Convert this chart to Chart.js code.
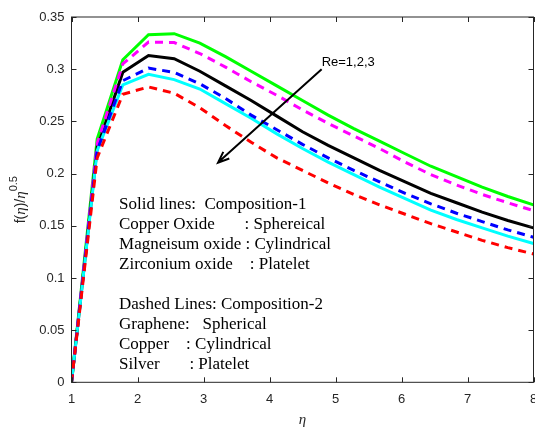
<!DOCTYPE html>
<html>
<head>
<meta charset="utf-8">
<script src="https://cdn.jsdelivr.net/npm/chart.js@4.4.0/dist/chart.umd.min.js"></script>
<style>
  html, body { margin: 0; padding: 0; background: #fff; }
</style>
</head>
<body>
<canvas id="chart" width="535" height="431"></canvas>
<script>
// eta nodes along the x axis
const etaPoints = [1, 1.3889, 1.7778, 2.1667, 2.5556, 2.9444, 3.3333, 3.7222, 4.1111, 4.5,
                   4.8889, 5.2778, 5.6667, 6.0556, 6.4444, 6.8333, 7.2222, 7.6111, 8];

// solid lines (composition 1)
const greenVals = [0, 0.233, 0.309, 0.333, 0.334, 0.325, 0.312, 0.298, 0.284, 0.270,
                   0.256, 0.243, 0.231, 0.219, 0.207, 0.197, 0.187, 0.178, 0.170];
const blackVals = [0, 0.225, 0.297, 0.313, 0.310, 0.298, 0.284, 0.270, 0.255, 0.240,
                   0.227, 0.215, 0.203, 0.192, 0.181, 0.172, 0.163, 0.155, 0.148];
const cyanVals  = [0, 0.222, 0.285, 0.295, 0.290, 0.281, 0.267, 0.253, 0.238, 0.224,
                   0.211, 0.199, 0.187, 0.176, 0.165, 0.156, 0.148, 0.140, 0.133];

// dashed lines (composition 2)
const magentaVals = [0, 0.229, 0.305, 0.326, 0.3255, 0.315, 0.302, 0.288, 0.275, 0.261,
                     0.248, 0.236, 0.224, 0.211, 0.199, 0.189, 0.180, 0.172, 0.1645];
const blueVals    = [0, 0.222, 0.289, 0.301, 0.297, 0.286, 0.272, 0.256, 0.242, 0.228,
                     0.215, 0.203, 0.192, 0.181, 0.171, 0.162, 0.154, 0.146, 0.139];
const redVals     = [0, 0.215, 0.276, 0.283, 0.277, 0.263, 0.246, 0.230, 0.215, 0.203,
                     0.191, 0.180, 0.170, 0.161, 0.152, 0.144, 0.136, 0.129, 0.123];

const xTicks = [1, 2, 3, 4, 5, 6, 7, 8];
const yTicks = [0, 0.05, 0.1, 0.15, 0.2, 0.25, 0.3, 0.35];
const yTickLabels = ['0', '0.05', '0.1', '0.15', '0.2', '0.25', '0.3', '0.35'];

const noteLines = [
  'Solid lines:  Composition-1',
  'Copper Oxide       : Sphereical',
  'Magneisum oxide : Cylindrical',
  'Zirconium oxide    : Platelet',
  '',
  'Dashed Lines: Composition-2',
  'Graphene:   Spherical',
  'Copper    : Cylindrical',
  'Silver       : Platelet'
];
const reLabel = 'Re=1,2,3';

const AXIS = '#262626';

function pts(vals) {
  return vals.map((v, i) => ({ x: etaPoints[i], y: v }));
}

function series(label, vals, color, dashed, order) {
  return {
    label: label,
    data: pts(vals),
    borderColor: color,
    borderWidth: 3,
    borderDash: dashed ? [8, 6] : [],
    pointRadius: 0,
    tension: 0,
    fill: false,
    order: order
  };
}

// frame, inner ticks, annotations and the y label
const decor = {
  id: 'decor',
  afterDraw(chart) {
    const ctx = chart.ctx;
    const a = chart.chartArea;
    const xs = chart.scales.x, ys = chart.scales.y;
    ctx.save();
    ctx.strokeStyle = AXIS;
    ctx.lineWidth = 1;
    ctx.strokeRect(a.left, a.top, a.right - a.left, a.bottom - a.top);
    ctx.beginPath();
    xTicks.forEach(v => {
      const px = Math.round(xs.getPixelForValue(v)) + 0.5;
      ctx.moveTo(px, a.bottom); ctx.lineTo(px, a.bottom - 5);
      ctx.moveTo(px, a.top); ctx.lineTo(px, a.top + 5);
    });
    yTicks.forEach(v => {
      const py = Math.round(ys.getPixelForValue(v)) + 0.5;
      ctx.moveTo(a.left, py); ctx.lineTo(a.left + 5, py);
      ctx.moveTo(a.right, py); ctx.lineTo(a.right - 5, py);
    });
    ctx.stroke();

    // arrow Re=1,2,3
    const x0 = xs.getPixelForValue(4.79), y0 = ys.getPixelForValue(0.300);
    const x1 = xs.getPixelForValue(3.22), y1 = ys.getPixelForValue(0.2105);
    ctx.strokeStyle = '#000';
    ctx.lineWidth = 2;
    ctx.beginPath();
    ctx.moveTo(x0, y0); ctx.lineTo(x1, y1);
    const ang = Math.atan2(y0 - y1, x0 - x1);
    ctx.moveTo(x1 + 12 * Math.cos(ang - 0.38), y1 + 12 * Math.sin(ang - 0.38));
    ctx.lineTo(x1, y1);
    ctx.lineTo(x1 + 12 * Math.cos(ang + 0.38), y1 + 12 * Math.sin(ang + 0.38));
    ctx.stroke();

    ctx.fillStyle = '#000';
    ctx.font = '13px "Liberation Sans", Arial, sans-serif';
    ctx.textBaseline = 'alphabetic';
    ctx.textAlign = 'left';
    ctx.fillText(reLabel, xs.getPixelForValue(4.79), ys.getPixelForValue(0.3035));

    // legend-like note block
    ctx.font = '17px "Liberation Serif", "Times New Roman", serif';
    const tx = xs.getPixelForValue(1.72);
    const ty = ys.getPixelForValue(0.1664);
    noteLines.forEach((t, i) => {
      if (t) ctx.fillText(t, tx, ty + i * 20.1);
    });

    // y axis label f(eta)/eta^0.5
    const parts = [
      { t: 'f(', f: '14px "Liberation Sans", Arial, sans-serif', dy: 0 },
      { t: 'η', f: 'italic 15px "Liberation Serif", serif', dy: 0 },
      { t: ')/', f: '14px "Liberation Sans", Arial, sans-serif', dy: 0 },
      { t: 'η', f: 'italic 15px "Liberation Serif", serif', dy: 0 },
      { t: '0.5', f: '11px "Liberation Sans", Arial, sans-serif', dy: -8 }
    ];
    let total = 0;
    parts.forEach(p => { ctx.font = p.f; p.w = ctx.measureText(p.t).width; total += p.w; });
    ctx.translate(25, (a.top + a.bottom) / 2);
    ctx.rotate(-Math.PI / 2);
    ctx.fillStyle = AXIS;
    let cx = -total / 2;
    parts.forEach(p => {
      ctx.font = p.f;
      ctx.fillText(p.t, cx, p.dy);
      cx += p.w;
    });
    ctx.restore();
  }
};

new Chart(document.getElementById('chart'), {
  type: 'line',
  data: {
    datasets: [
      series('Re=1 (composition 1)', greenVals, '#00ff00', false, 6),
      series('Re=2 (composition 1)', blackVals, '#000000', false, 5),
      series('Re=3 (composition 1)', cyanVals, '#00ffff', false, 4),
      series('Re=1 (composition 2)', magentaVals, '#ff00ff', true, 3),
      series('Re=2 (composition 2)', blueVals, '#0000ff', true, 2),
      series('Re=3 (composition 2)', redVals, '#ff0000', true, 1)
    ]
  },
  options: {
    responsive: false,
    devicePixelRatio: 1,
    animation: false,
    layout: { autoPadding: false, padding: { top: 17, right: 1.5, left: 0, bottom: 0 } },
    plugins: {
      legend: { display: false },
      tooltip: { enabled: false }
    },
    scales: {
      x: {
        type: 'linear',
        min: 1,
        max: 8,
        afterBuildTicks: s => { s.ticks = xTicks.map(v => ({ value: v })); },
        afterFit: s => { s.height = 48.7; s.paddingLeft = 0; s.paddingRight = 0; },
        grid: { display: false, drawTicks: false },
        border: { display: false },
        ticks: {
          padding: 9,
          color: AXIS,
          maxRotation: 0,
          autoSkip: false,
          font: { family: '"Liberation Sans", Arial, sans-serif', size: 13 }
        },
        title: {
          display: true,
          text: 'η',
          color: AXIS,
          font: { family: '"Liberation Serif", serif', style: 'italic', size: 15 },
          padding: { top: 0, bottom: 2 }
        }
      },
      y: {
        min: 0,
        max: 0.35,
        afterBuildTicks: s => { s.ticks = yTicks.map(v => ({ value: v })); },
        afterFit: s => { s.width = 71.5; s.paddingTop = 0; s.paddingBottom = 0; },
        grid: { display: false, drawTicks: false },
        border: { display: false },
        ticks: {
          padding: 7,
          color: AXIS,
          font: { family: '"Liberation Sans", Arial, sans-serif', size: 13 },
          callback: (v, i) => yTickLabels[i]
        }
      }
    }
  },
  plugins: [decor]
});
</script>
</body>
</html>
